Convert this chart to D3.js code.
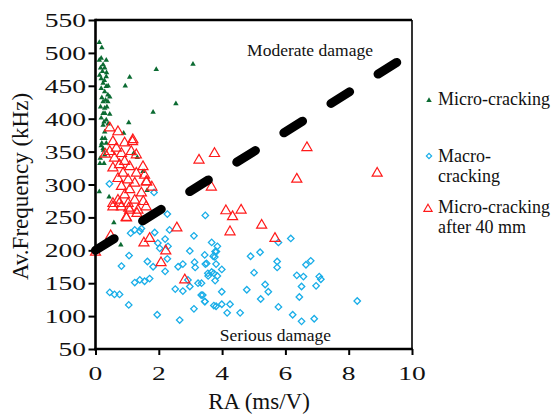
<!DOCTYPE html>
<html>
<head>
<meta charset="utf-8">
<script src="https://cdn.jsdelivr.net/npm/d3@7"></script>
<style>
  html, body { margin: 0; padding: 0; background: #fff; }
  svg { display: block; }
  text { font-family: "Liberation Serif", "DejaVu Serif", serif; fill: #111; }
</style>
</head>
<body>
<svg id="chart" width="553" height="415"></svg>
<script>
// Tick values
const xTicks = [0, 2, 4, 6, 8, 10];
const yTicks = [50, 100, 150, 200, 250, 300, 350, 400, 450, 500, 550];

// Micro-cracking events: [RA (ms/V), average frequency (kHz)]
const microCracking = [
  [0.12,516],[0.2,508],[1.08,463],[0.94,450],[1.92,475],[3.08,483],[2.54,423],[1.82,410],
  [1.05,394],[0.89,378],[1.32,341],[1.2,347],[1.5,320],[1.63,291],[0.27,332],[0.12,289],
  [0.43,281],[0.58,242],[0.8,208],
  [0.12,489],[0.18,492],[0.34,489],[0.24,482],[0.16,477],[0.29,477],[0.13,466],[0.34,464],
  [0.18,461],[0.24,454],[0.34,449],[0.18,446],[0.29,441],[0.39,436],[0.45,433],[0.24,426],
  [0.16,418],[0.39,426],[0.29,416],[0.24,408],[0.45,407],[0.18,401],[0.34,398],[0.3,408],
  [0.24,390],[0.29,380],[0.21,370],[0.34,363],[0.24,355],[0.18,359],[0.29,345],[0.2,363],
  [0.25,352],[0.14,332],[0.35,470],[0.22,472],[0.28,458],[0.4,450],[0.2,432],[0.32,428],
  [0.36,418],[0.27,395],[0.4,392],[0.3,370],[0.15,340]
];

// Macro-cracking events
const macroCracking = [
  [0.44,301],[1.85,288],[2.27,255],[3.47,253],[1.24,231],[1.11,226],[1.4,229],[1.87,227],
  [2.34,231],[2.2,217],[3.11,222],[1.97,211],[2.03,203],[2.29,206],[1.06,192],[2.27,187],
  [2.98,199],[3.45,193],[3.82,198],[1.64,183],[1.82,175],[2.2,168],[2.61,175],[2.76,179],
  [3.13,182],[3.15,174],[3.47,179],[3.55,165],[3.74,165],[3.77,190],[0.82,176],[1.24,151],
  [1.4,155],[1.55,153],[1.71,157],[0.45,136],[0.6,133],[0.76,133],[1.05,117],[1.95,102],
  [2.66,94],[2.52,141],[2.76,138],[2.98,145],[3.24,150],[3.34,132],[3.45,122],[3.11,111],
  [3.74,116],[2.92,155],[3.67,212],[3.85,206],[3.78,198],[3.72,191],[3.81,179],[3.51,180],
  [3.99,171],[3.67,167],[3.56,161],[3.85,161],[3.78,154],[3.35,150],[3.99,137],[3.39,132],
  [3.46,122],[3.81,115],[3.99,118],[4.25,118],[4.16,105],[4.57,105],[4.78,140],[4.9,191],
  [5.2,197],[5.01,166],[5.36,148],[5.46,137],[5.22,126],[5.74,183],[5.74,174],[5.78,212],
  [6.17,218],[5.78,114],[6.23,102],[6.51,92],[6.91,96],[6.36,162],[6.57,160],[6.51,145],
  [6.44,129],[6.65,178],[6.8,184],[6.97,146],[7.07,160],[7.12,156],[8.27,123],[1.45,233]
];

// Micro-cracking events after 40 mm
const microAfter40 = [
  [3.27,337],[3.76,347],[3.66,296],[6.68,356],[6.36,308],[8.9,317],[4.12,260],[4.33,251],
  [4.6,261],[4.25,228],[5.25,238],[5.67,218],[2.57,234],[2.22,199],[2.07,181],[1.53,211],
  [1.71,218],[2.82,155],[0.97,250],[1.31,256],[0,197],[0.48,222],[0.55,266],[1.05,264],
  [1.6,266],
  [0.45,386],[0.71,380],[1.18,368],[0.92,363],[0.55,365],[0.66,355],[0.45,350],[0.82,347],
  [1.13,350],[1.29,345],[0.6,340],[0.92,335],[0.76,330],[1.08,327],[1.5,327],[0.55,325],
  [1.29,317],[0.87,317],[1.55,314],[0.71,309],[1.03,307],[1.6,304],[1.24,302],[1.78,296],
  [0.82,297],[1.08,292],[1.45,287],[0.92,284],[0.71,276],[1.24,276],[1.03,271],[0.55,271],
  [1.34,261],[0.82,266],[1.08,261],[0.31,346],[1.17,365],[1.62,304],[1.51,274],[0.75,271],
  [0.98,249]
];

// Boundary between moderate and serious damage: [RA, frequency]
const boundary = [[0, 200], [9.55, 486.5]];

const colors = { micro: "#0b6b32", macro: "#1aaee8", after: "#ff1a1a" };

const svg = d3.select("#chart");
const plotLeft = 95.5, plotRight = 412, plotTop = 20, plotBottom = 349;

const x = d3.scaleLinear().domain([0, 10]).range([plotLeft, plotRight]);
const y = d3.scaleLinear().domain([50, 550]).range([plotBottom, plotTop]);

// Markers
const triSmall = d3.symbol().type(d3.symbolTriangle).size(13)();
const triLarge = d3.symbol().type(d3.symbolTriangle).size(44)();
const square = d3.symbol().type(d3.symbolSquare).size(21)();

const plot = svg.append("g");

plot.selectAll("path.micro").data(microCracking).join("path")
  .attr("class", "micro")
  .attr("d", triSmall)
  .attr("transform", d => `translate(${x(d[0])},${y(d[1])})`)
  .attr("fill", colors.micro);

plot.selectAll("path.macro").data(macroCracking).join("path")
  .attr("class", "macro")
  .attr("d", square)
  .attr("transform", d => `translate(${x(d[0])},${y(d[1])}) rotate(45)`)
  .attr("fill", "none")
  .attr("stroke", colors.macro)
  .attr("stroke-width", 1.3);

plot.selectAll("path.after").data(microAfter40).join("path")
  .attr("class", "after")
  .attr("d", triLarge)
  .attr("transform", d => `translate(${x(d[0])},${y(d[1])})`)
  .attr("fill", "none")
  .attr("stroke", colors.after)
  .attr("stroke-width", 1.2);

// Dashed boundary line
svg.append("path")
  .datum(boundary)
  .attr("d", d3.line().x(d => x(d[0])).y(d => y(d[1])))
  .attr("fill", "none")
  .attr("stroke", "#000")
  .attr("stroke-width", 9)
  .attr("stroke-linecap", "round")
  .attr("stroke-dasharray", "22,33.5");

// Frame
svg.append("line").attr("x1", plotLeft).attr("x2", plotRight).attr("y1", plotTop).attr("y2", plotTop)
  .attr("stroke", "#000").attr("stroke-width", 2.5);
svg.append("line").attr("x1", plotRight).attr("x2", plotRight).attr("y1", plotTop).attr("y2", plotBottom)
  .attr("stroke", "#000").attr("stroke-width", 1.6);

// Axes
const yAxis = svg.append("g")
  .attr("transform", `translate(${plotLeft},0)`)
  .call(d3.axisLeft(y).tickValues(yTicks).tickSize(7).tickFormat(""));
const xAxis = svg.append("g")
  .attr("transform", `translate(0,${plotBottom})`)
  .call(d3.axisBottom(x).tickValues(xTicks).tickSize(6).tickFormat(""));
[yAxis, xAxis].forEach(a => {
  a.select(".domain").attr("stroke", "#000").attr("stroke-width", 2.6);
  a.selectAll(".tick line").attr("stroke", "#000").attr("stroke-width", 2);
});
xAxis.select(".domain").attr("d", `M${plotLeft - 1.3},0H${plotRight + 0.8}`);
yAxis.select(".domain").attr("d", `M0,${plotTop - 1.2}V${plotBottom + 1.3}`);

// Tick labels (wide serif digits)
svg.append("g").selectAll("text").data(yTicks).join("text")
  .attr("transform", d => `translate(86,${y(d) + 7}) scale(1.45,1)`)
  .attr("text-anchor", "end")
  .style("font-size", "19px")
  .text(d => d);
svg.append("g").selectAll("text").data(xTicks).join("text")
  .attr("transform", d => `translate(${x(d)},380) scale(1.45,1)`)
  .attr("text-anchor", "middle")
  .style("font-size", "19px")
  .text(d => d);

// Axis titles
svg.append("text")
  .attr("transform", "translate(259,409)")
  .attr("text-anchor", "middle")
  .style("font-size", "23px")
  .text("RA (ms/V)");
svg.append("text")
  .attr("transform", "translate(28,186.5) rotate(-90)")
  .attr("text-anchor", "middle")
  .style("font-size", "23px")
  .text("Av.Frequency (kHz)");

// Region annotations
svg.append("text").attr("x", 310).attr("y", 56).attr("text-anchor", "middle")
  .style("font-size", "17.5px").text("Moderate damage");
svg.append("text").attr("x", 275.5).attr("y", 341).attr("text-anchor", "middle")
  .style("font-size", "17.5px").text("Serious damage");

// Legend
const legend = svg.append("g");
legend.append("path").attr("d", triSmall).attr("fill", colors.micro)
  .attr("transform", "translate(429,100.5)");
legend.append("text").attr("x", 438).attr("y", 105).style("font-size", "18px").text("Micro-cracking");

legend.append("path").attr("d", d3.symbol().type(d3.symbolSquare).size(14)()).attr("fill", "none")
  .attr("stroke", colors.macro).attr("stroke-width", 1.2)
  .attr("transform", "translate(429,156) rotate(45)");
legend.append("text").attr("x", 438).attr("y", 162).style("font-size", "18px").text("Macro-");
legend.append("text").attr("x", 438).attr("y", 182).style("font-size", "18px").text("cracking");

legend.append("path").attr("d", d3.symbol().type(d3.symbolTriangle).size(30)()).attr("fill", "none")
  .attr("stroke", colors.after).attr("stroke-width", 1.1)
  .attr("transform", "translate(428,209)");
legend.append("text").attr("x", 438).attr("y", 213).style("font-size", "18px").text("Micro-cracking");
legend.append("text").attr("x", 438).attr("y", 233).style("font-size", "18px").text("after 40 mm");
</script>
</body>
</html>
